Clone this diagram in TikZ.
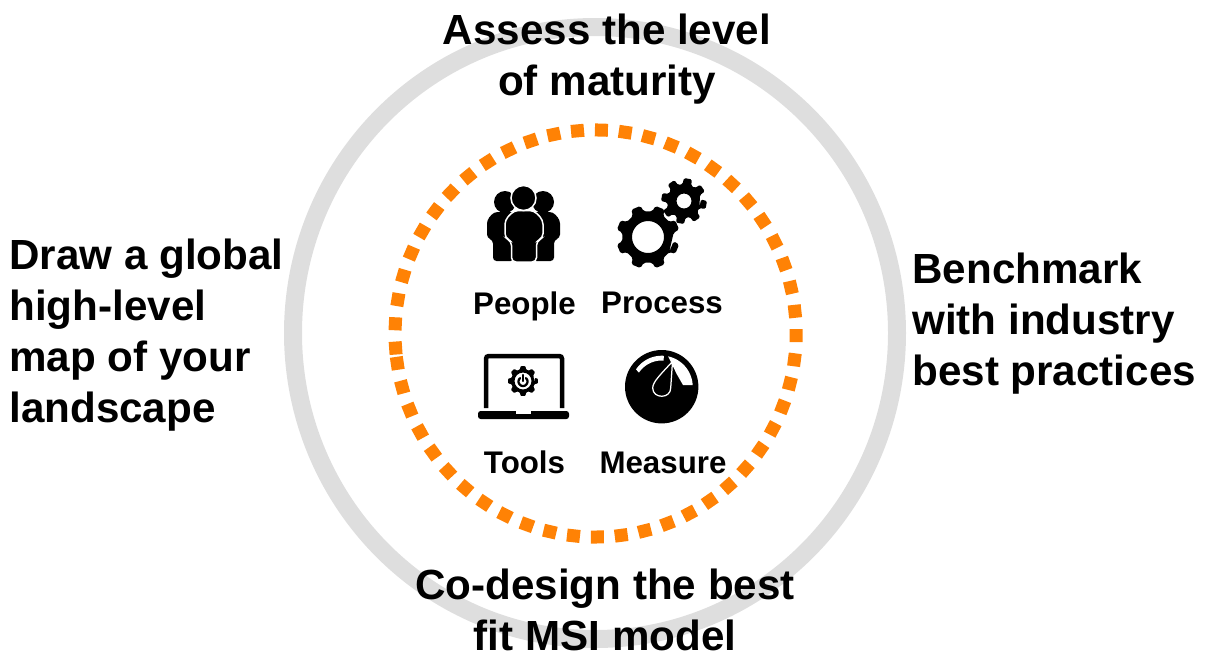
\documentclass[tikz,border=0pt]{standalone}
\usepackage{fontspec}
\setmainfont{Liberation Sans}
\definecolor{ringorangecol}{HTML}{FF8205}
\definecolor{ringgraycol}{HTML}{DEDEDE}
\begin{document}
\begin{tikzpicture}[x=0.02cm,y=-0.02cm,
  heading/.style={font=\fontsize{24}{29}\selectfont\bfseries,inner sep=0pt,text=black},
  iconlabel/.style={font=\fontsize{17.8}{21}\selectfont\bfseries,inner sep=0pt,anchor=base,text=black},
  ringgray/.style={draw=ringgraycol,line width=0.36cm},
  ringsquare/.style={fill=ringorangecol}]
\useasboundingbox (0,0) rectangle (1207,654);
\newcommand{\gearshape}[9]{% x,y,outer,root,hole,offset,outer half width,root half width,corner
  \fill[black,even odd rule,rounded corners=#9pt]
    ({#1+#4*cos(#6+#8)},{#2+#4*sin(#6+#8)})
    \foreach \a in {0,45,...,315}{
      -- ({#1+#4*cos(\a+#6-#8)},{#2+#4*sin(\a+#6-#8)})
      -- ({#1+#3*cos(\a+#6-#7)},{#2+#3*sin(\a+#6-#7)})
      -- ({#1+#3*cos(\a+#6+#7)},{#2+#3*sin(\a+#6+#7)})
      -- ({#1+#4*cos(\a+#6+#8)},{#2+#4*sin(\a+#6+#8)})
    } -- cycle
    (#1,#2) circle[radius=#5];}
% rings
\draw[ringgray] (595,333) ellipse[x radius=302,y radius=306];
\foreach \k in {0,...,52}{
  \pgfmathsetmacro{\t}{184.1-6.84*\k}
  \fill[ringsquare,shift={({595.6+200.5*cos(\t)},{333.5-203.5*sin(\t)})},rotate=\t] (-6.5,-6.5) rectangle (6.5,6.5);
}
% people
\fill[black,rounded corners=2pt] (487,238) -- (487,220) -- (494,212) -- (514,212) -- (514,261) -- (493,261) -- (493,240) -- cycle;
\fill[black,rounded corners=2pt] (560,238) -- (560,220) -- (553,212) -- (533,212) -- (533,261) -- (554,261) -- (554,240) -- cycle;
\fill[black] (505,202) circle[radius=11] (543,202) circle[radius=11];
\fill[black,draw=white,line width=0.03cm,rounded corners=2.5pt] (505,238) -- (505,220) -- (514,210.5) -- (534,210.5) -- (543,220) -- (543,238) -- (536.5,241) -- (536.5,262) -- (511.5,262) -- (511.5,241) -- cycle;
\fill[black,draw=white,line width=0.03cm] (523.5,198) circle[radius=12.5];
% gears
\gearshape{648}{237}{32}{26}{16}{22.5}{9}{13}{1}
\gearshape{684}{201}{23}{17}{7.5}{10}{10}{15}{0.8}
% laptop
\draw[black,line width=0.09cm,rounded corners=1.5pt] (486,408) -- (486,356) -- (562,356) -- (562,408);
\fill[black,rounded corners=1.5pt] (478,411) rectangle (569,419);
\fill[white] (516,411) rectangle (531,413.5);
\gearshape{523}{381}{15}{12}{8.5}{0}{10}{14}{0.5}
\draw[black,line width=0.045cm,line cap=round] plot[domain=-50:230,samples=20] ({523+4.5*cos(\x)},{381.5+4.5*sin(\x)});
\draw[black,line width=0.045cm,line cap=round] (523,375) -- (523,381);
% measure
\fill[black] (661.7,386.7) circle[radius=36.7];
\fill[white] plot[domain=3:78,samples=20] ({661.7+31*cos(\x)},{386.7-31*sin(\x)}) -- (676.7,374) -- (683,385) -- cycle;
\fill[white] plot[domain=86:146,samples=16] ({661.7+31*cos(\x)},{386.7-31*sin(\x)}) -- plot[domain=146:86,samples=16] ({661.7+27.5*cos(\x)},{388-27.5*sin(\x)}) -- cycle;
\fill[black,draw=white,line width=0.025cm,line join=round] (672.5,361.5) -- (670.7,388) .. controls (670.7,399) and (652.7,399) .. (652.7,388) .. controls (652.7,382) and (660,375) .. cycle;
% icon labels
\node[iconlabel] (people) at (524.5,314) {People};
\node[iconlabel] (process) at (662,313) {Process};
\node[iconlabel] (tools) at (524.5,473) {Tools};
\node[iconlabel] (measure) at (663,473) {Measure};
% headings
\node[heading,align=center,anchor=north] (assess) at (607,14) {Assess the level\\of maturity};
\node[heading,align=left,anchor=north west] (draw) at (9,239) {Draw a global\\high-level\\map of your\\landscape};
\node[heading,align=left,anchor=north west] (bench) at (912,253) {Benchmark\\with industry\\best practices};
\node[heading,align=center,anchor=north] (codesign) at (605,569) {Co-design the best\\fit MSI model};
\end{tikzpicture}
\end{document}
